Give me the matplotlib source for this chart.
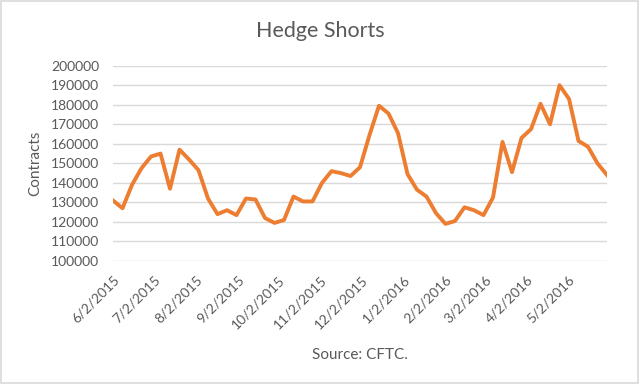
"""
Hedge Shorts chart: weekly CFTC hedge short contracts, Jun 2015 - May 2016.
"""

import datetime as dt

import matplotlib
matplotlib.use("Agg")
import matplotlib.pyplot as plt
from matplotlib.patches import Rectangle

start_date = dt.date(2015, 6, 2)

hedge_shorts = [
    131000, 127000, 139000, 147500, 153500, 155000, 137000, 157000, 152000, 146500,
    132000, 124000, 126000, 123500, 132000, 131500, 122000, 119500, 121000, 133000,
    130500, 130500, 140000, 146000, 145000, 143500, 148000, 164500, 179500, 175500,
    165500, 144500, 136500, 133000, 124500, 119000, 120500, 127500, 126000, 123500,
    132500, 161000, 145500, 163000, 167500, 180500, 170000, 190000, 183000, 161500,
    158500, 150000, 144000,
]

tick_months = [(2015, 6), (2015, 7), (2015, 8), (2015, 9), (2015, 10), (2015, 11),
               (2015, 12), (2016, 1), (2016, 2), (2016, 3), (2016, 4), (2016, 5)]

dates = [start_date + dt.timedelta(weeks=i) for i in range(len(hedge_shorts))]
tick_dates = [dt.date(y, m, 2) for y, m in tick_months]

plt.rcParams["font.family"] = ["Lato", "DejaVu Sans"]
text_color = "#595959"

fig = plt.figure(figsize=(6.4, 3.84), dpi=100)
ax = fig.add_axes([113 / 640, 1 - 261 / 384, (607 - 113) / 640, (261 - 65.7) / 384])

ax.plot(dates, hedge_shorts, color="#ED7D31", linewidth=2.8, solid_joinstyle="round")

ax.set_ylim(100000, 200000)
ax.set_yticks(range(100000, 200001, 10000))
ax.set_xlim(dates[0], dates[-1])
ax.set_xticks(tick_dates)
ax.set_xticklabels([f"{d.month}/{d.day}/{d.year}" for d in tick_dates])

ax.grid(axis="y", color="#d9d9d9", linewidth=1)
ax.set_axisbelow(True)
for side in ["top", "right", "left", "bottom"]:
    ax.spines[side].set_visible(False)
ax.tick_params(axis="both", length=0, colors=text_color, labelsize=10)
ax.tick_params(axis="y", pad=10)
ax.tick_params(axis="x", pad=9)
plt.setp(ax.get_xticklabels(), rotation=45, ha="right", va="top", rotation_mode="anchor")

ax.set_ylabel("Contracts", color=text_color, fontsize=11, labelpad=6)
fig.text(0.5, 1 - 31 / 384, "Hedge Shorts", ha="center", va="center",
         color=text_color, fontsize=15.5)
fig.text(360 / 640, 1 - 355 / 384, "Source: CFTC.", ha="center", va="center",
         color=text_color, fontsize=11)

fig.patches.append(Rectangle((0.002, 0.003), 0.995, 0.994, transform=fig.transFigure,
                             fill=False, edgecolor="#d9d9d9", linewidth=1.2))

fig.savefig("out.png", dpi=100)
